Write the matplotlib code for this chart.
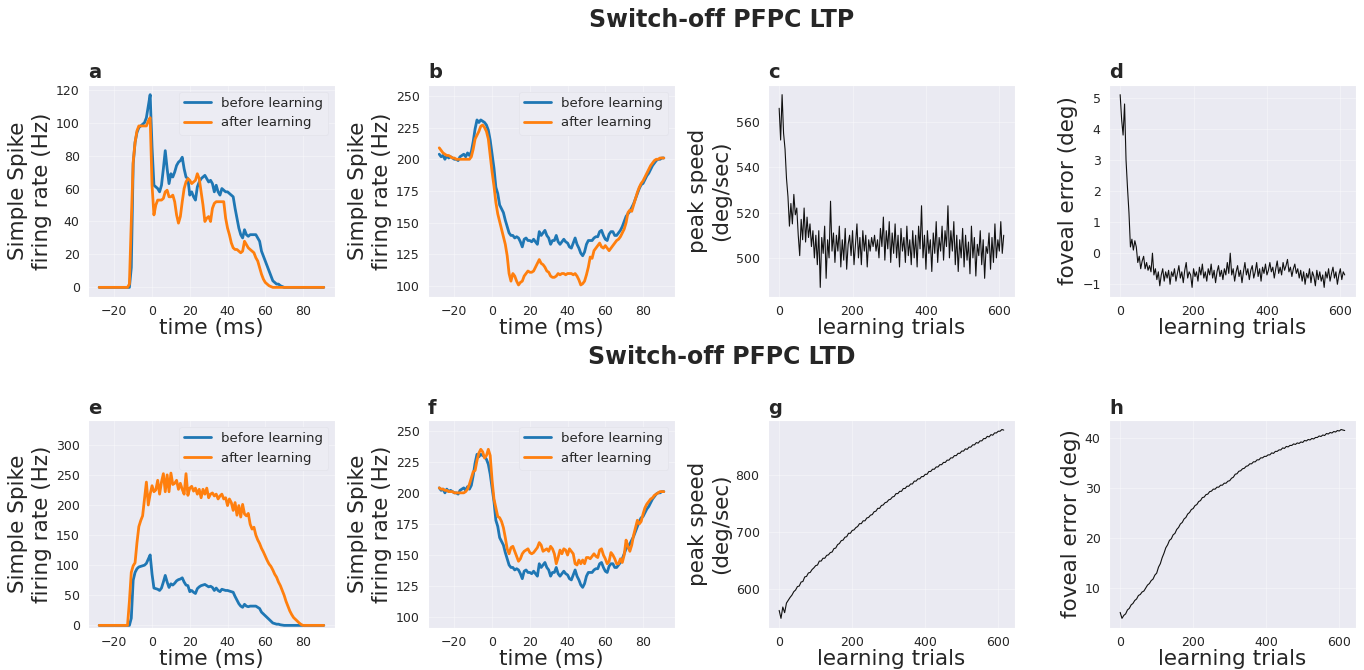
import numpy as np
import matplotlib
matplotlib.use("Agg")
import matplotlib.pyplot as plt
import seaborn as sns

sns.set_style("darkgrid")
plt.rcParams["font.family"] = ["DejaVu Sans"]

# 1 ms bins around saccade onset
t_ms = np.arange(-28, 92)

# simple spike rate, burst cell (Hz); the "before" run is the same in both rows
burst_before = [0, 0, 0, 0, 0, 0, 0, 0, 0, 0,
                0, 0, 0, 0, 0, 0, 0, 12, 75, 88,
                94, 97, 98, 99, 100, 103, 110, 117, 85, 62,
                61, 60, 58, 62, 72, 83, 72, 63, 69, 67,
                70, 74, 76, 77, 79, 72, 67, 66, 56, 58,
                55, 53, 61, 64, 66, 67, 68, 66, 64, 65,
                63, 58, 62, 58, 56, 60, 59, 58, 58, 57,
                56, 55, 48, 42, 36, 32, 30, 35, 32, 31,
                32, 32, 32, 32, 30, 28, 22, 19, 16, 13,
                10, 7, 4, 3, 2, 2, 1, 0.5, 0, 0,
                0, 0, 0, 0, 0, 0, 0, 0, 0, 0,
                0, 0, 0, 0, 0, 0, 0, 0, 0, 0]
burst_after_ltp = [0, 0, 0, 0, 0, 0, 0, 0, 0, 0,
                   0, 0, 0, 0, 0, 0, 2, 40, 76, 88,
                   95, 98, 98, 98, 98, 98, 101, 103, 62, 44,
                   50, 53, 53, 53, 54, 58, 59, 55, 55, 56,
                   52, 44, 39, 43, 52, 60, 64, 66, 65, 63,
                   64, 65, 69, 66, 58, 50, 40, 42, 43, 40,
                   48, 51, 52, 52, 52, 52, 52, 42, 36, 32,
                   27, 24, 23, 23, 22, 21, 22, 28, 26, 24,
                   23, 22, 21, 18, 16, 12, 8, 5, 3, 2,
                   1, 0.5, 0, 0, 0, 0, 0, 0, 0, 0,
                   0, 0, 0, 0, 0, 0, 0, 0, 0, 0,
                   0, 0, 0, 0, 0, 0, 0, 0, 0, 0]
burst_after_ltd = [0, 0, 0, 0, 0, 0, 0, 0, 0, 0,
                   0, 0, 0, 0, 0, 0, 40, 88, 99, 104,
                   137, 164, 174, 182, 210, 238, 200, 218, 232, 222,
                   225, 241, 218, 238, 252, 222, 250, 222, 253, 234,
                   236, 241, 226, 236, 226, 218, 252, 216, 228, 231,
                   223, 228, 218, 226, 212, 226, 218, 228, 212, 218,
                   220, 215, 218, 210, 215, 218, 210, 212, 199, 210,
                   204, 191, 204, 183, 199, 180, 201, 185, 182, 186,
                   168, 160, 163, 150, 142, 136, 128, 122, 115, 108,
                   102, 98, 92, 85, 80, 72, 66, 58, 50, 40,
                   32, 24, 18, 13, 10, 7, 4, 1.5, 0, 0,
                   0, 0, 0, 0, 0, 0, 0, 0, 0, 0]

# simple spike rate, pause cell (Hz)
pause_before = [204, 202, 203, 200, 203, 201, 202, 201, 200, 200,
                199, 202, 203, 204, 202, 205, 203, 206, 214, 224,
                231, 229, 231, 230, 229, 227, 223, 215, 204, 193,
                178, 173, 164, 161, 158, 152, 147, 142, 140, 140,
                138, 139, 138, 135, 131, 137, 138, 136, 136, 135,
                137, 135, 133, 143, 140, 142, 144, 140, 138, 133,
                136, 136, 140, 135, 133, 135, 137, 135, 134, 131,
                130, 134, 138, 133, 130, 126, 124, 127, 133, 136,
                136, 136, 138, 139, 139, 143, 144, 140, 137, 136,
                141, 143, 143, 140, 140, 142, 144, 147, 151, 155,
                157, 159, 162, 165, 169, 173, 177, 180, 181, 184,
                187, 189, 192, 195, 197, 199, 200, 200, 201, 201]
pause_after_ltp = [209, 207, 205, 204, 203, 203, 202, 201, 201, 200,
                   200, 200, 200, 200, 200, 200, 200, 202, 208, 216,
                   219, 222, 226, 227, 225, 222, 216, 203, 190, 179,
                   166, 157, 151, 145, 139, 133, 124, 110, 104, 110,
                   108, 104, 101, 103, 104, 108, 110, 112, 111, 111,
                   112, 115, 118, 121, 118, 117, 115, 112, 111, 108,
                   107, 107, 108, 110, 109, 110, 110, 109, 110, 110,
                   110, 109, 110, 108, 105, 101, 102, 104, 109, 115,
                   123, 122, 128, 130, 132, 134, 131, 130, 132, 130,
                   128, 130, 132, 134, 136, 137, 139, 142, 145, 150,
                   158, 160, 159, 164, 169, 174, 178, 181, 183, 186,
                   189, 192, 195, 197, 199, 200, 200, 201, 201, 201]
pause_after_ltd = [204, 203, 203, 202, 202, 201, 201, 201, 200, 200,
                   200, 200, 200, 200, 201, 203, 207, 212, 217, 218,
                   226, 232, 235, 233, 228, 230, 235, 230, 210, 195,
                   188, 181, 180, 177, 172, 164, 155, 151, 156, 157,
                   153, 149, 145, 147, 151, 153, 154, 155, 152, 151,
                   152, 154, 156, 160, 158, 153, 154, 155, 153, 157,
                   155, 151, 143, 148, 154, 151, 155, 154, 150, 155,
                   153, 151, 143, 142, 146, 143, 146, 143, 148, 148,
                   147, 149, 151, 149, 148, 154, 155, 150, 147, 143,
                   145, 152, 150, 147, 143, 143, 147, 144, 150, 162,
                   157, 153, 158, 166, 172, 178, 175, 177, 183, 188,
                   191, 193, 195, 196, 198, 199, 200, 201, 201, 201]

# learning curves: c/d read every 4 trials, g/h every 5 trials
speed_ltp = [566, 552, 572, 555, 548, 535, 527, 514, 524, 515,
             528, 519, 522, 510, 501, 517, 508, 522, 507, 518,
             509, 515, 505, 512, 500, 510, 497, 512, 487, 509,
             502, 514, 491, 508, 500, 525, 503, 511, 498, 510,
             503, 514, 496, 508, 499, 513, 495, 506, 510, 501,
             512, 497, 506, 515, 500, 509, 497, 512, 503, 510,
             496, 508, 503, 509, 505, 510, 503, 508, 500, 513,
             505, 518, 499, 512, 504, 516, 498, 511, 502, 515,
             500, 510, 496, 513, 503, 509, 498, 514, 501, 508,
             497, 512, 500, 510, 496, 514, 504, 523, 500, 510,
             495, 512, 502, 508, 494, 511, 502, 516, 498, 509,
             503, 514, 499, 512, 505, 523, 500, 512, 503, 516,
             497, 510, 494, 508, 500, 513, 496, 510, 499, 507,
             493, 514, 500, 509, 492, 506, 501, 512, 497, 508,
             491, 505, 502, 511, 495, 509, 498, 515, 500, 508,
             503, 516, 502, 510]
error_ltp = [5.1, 4.3, 3.8, 4.8, 3.0, 2.1, 1.3, 0.2, 0.45, 0.1,
             0.4, 0.2, -0.3, -0.1, -0.5, -0.25, -0.1, -0.5, -0.3, -0.55,
             -0.4, -0.6, 0.0, -0.7, -0.5, -0.85, -0.6, -1.05, -0.7, -0.5,
             -0.9, -0.6, -0.8, -0.55, -1.0, -0.6, -0.75, -0.5, -0.9, -0.65,
             -0.4, -0.8, -0.6, -0.95, -0.55, -0.3, -0.8, -0.6, -0.7, -1.1,
             -0.5, -0.75, -0.6, -0.9, -0.45, -0.7, -0.35, -0.8, -0.6, -0.9,
             -0.5, -0.7, -0.35, -0.8, -0.55, -0.95, -0.6, -0.4, -0.75, -0.55,
             -0.85, -0.5, -0.7, -0.3, -0.65, 0.0, -0.7, -0.5, -0.9, -0.6,
             -0.4, -0.75, -0.55, -0.95, -0.6, -0.3, -0.7, -0.5, -0.85, -0.55,
             -0.4, -0.8, -0.6, -0.3, -0.75, -0.5, -0.9, -0.45, -0.65, -0.35,
             -0.7, -0.55, -0.3, -0.6, -0.45, -0.8, -0.5, -0.25, -0.65, -0.45,
             -0.7, -0.3, -0.55, -0.4, -0.2, -0.6, -0.45, -0.75, -0.5, -0.35,
             -0.65, -0.5, -0.8, -0.55, -0.9, -0.6, -1.0, -0.65, -0.8, -0.5,
             -0.95, -0.6, -0.75, -1.05, -0.55, -0.85, -0.6, -0.9, -0.7, -1.1,
             -0.6, -0.8, -0.5, -0.9, -0.65, -0.45, -0.8, -0.6, -1.0, -0.7,
             -0.5, -0.85, -0.6, -0.7]
speed_ltd = [562, 548, 568, 558, 575, 580, 585, 589, 595, 598,
             604, 605, 612, 613, 621, 622, 628, 629, 634, 637,
             641, 642, 649, 649, 654, 654, 659, 660, 664, 665,
             671, 672, 678, 680, 685, 686, 691, 692, 698, 698,
             703, 704, 708, 710, 715, 715, 720, 720, 725, 726,
             730, 731, 736, 737, 742, 742, 747, 748, 752, 753,
             757, 758, 762, 763, 768, 768, 772, 772, 777, 777,
             781, 781, 785, 785, 790, 790, 794, 794, 798, 798,
             802, 802, 807, 807, 811, 811, 815, 815, 819, 819,
             823, 823, 827, 827, 831, 831, 835, 835, 839, 839,
             843, 843, 847, 846, 850, 850, 854, 854, 858, 857,
             861, 861, 865, 865, 869, 868, 872, 871, 875, 875,
             878, 878, 881, 880]
error_ltd = [5.0, 3.8, 4.4, 4.7, 5.5, 5.8, 6.5, 6.8, 7.4, 7.7,
             8.4, 8.6, 9.1, 9.3, 9.9, 10.5, 10.8, 11.4, 11.7, 12.5,
             12.9, 14.1, 14.8, 16.0, 16.9, 18.0, 18.6, 19.5, 19.8, 20.6,
             20.9, 21.7, 22.1, 22.8, 23.1, 23.8, 24.1, 24.8, 25.1, 25.7,
             25.9, 26.5, 26.7, 27.3, 27.5, 28.1, 28.2, 28.7, 28.8, 29.3,
             29.4, 29.8, 29.8, 30.2, 30.2, 30.6, 30.6, 31.0, 31.0, 31.4,
             31.5, 32.0, 32.2, 32.8, 32.9, 33.4, 33.5, 33.9, 34.0, 34.4,
             34.5, 34.9, 34.9, 35.3, 35.3, 35.7, 35.7, 36.1, 36.1, 36.4,
             36.4, 36.7, 36.7, 37.1, 37.0, 37.4, 37.4, 37.7, 37.7, 38.1,
             38.0, 38.4, 38.3, 38.6, 38.6, 38.9, 38.8, 39.1, 39.0, 39.3,
             39.2, 39.6, 39.5, 39.8, 39.7, 40.0, 39.9, 40.2, 40.2, 40.5,
             40.4, 40.7, 40.6, 41.0, 40.9, 41.2, 41.1, 41.4, 41.3, 41.6,
             41.5, 41.8, 41.7, 41.6]

LABEL = 15.5
TICK = 9


def rate_panel(ax, before, after, letter, yticks, ylim=None):
    ax.plot(t_ms, before, color="#1f77b4", lw=2, label="before learning")
    ax.plot(t_ms, after, color="#ff7f0e", lw=2, label="after learning")
    if ylim is not None:
        ax.set_ylim(*ylim)
    ax.set_yticks(yticks)
    ax.set_xticks([-20, 0, 20, 40, 60, 80])
    ax.set_xlabel("time (ms)", fontsize=LABEL, labelpad=0)
    ax.set_ylabel("Simple Spike\nfiring rate (Hz)", fontsize=LABEL, labelpad=3)
    leg = ax.legend(loc="upper right", fontsize=9.5, frameon=True,
                    facecolor="#ECECF3", edgecolor="#E4E4EC", framealpha=1)
    leg.get_frame().set_linewidth(0.6)
    finish(ax, letter)


def trial_panel(ax, values, step, letter, ylabel, yticks):
    trials = np.arange(len(values)) * step
    ax.plot(trials, values, color="#111111", lw=0.8)
    ax.set_yticks(yticks)
    ax.set_xticks([0, 200, 400, 600])
    ax.set_xlabel("learning trials", fontsize=LABEL, labelpad=0)
    ax.set_ylabel(ylabel, fontsize=LABEL, labelpad=3)
    finish(ax, letter)


def finish(ax, letter):
    ax.tick_params(labelsize=TICK, pad=2.5)
    ax.grid(color="white", lw=0.7, alpha=0.35)
    ax.text(0.0, 1.012, letter, transform=ax.transAxes, fontsize=14,
            fontweight="bold", ha="left", va="bottom")


fig = plt.figure(figsize=(13.64, 6.70), dpi=100)
lefts = [0.0645, 0.3138, 0.5630, 0.8130]
w = 0.1811
top_row = [fig.add_axes([l, 0.5567, w, 0.3164]) for l in lefts]
bot_row = [fig.add_axes([l, 0.0630, w, 0.3100]) for l in lefts]

rate_panel(top_row[0], burst_before, burst_after_ltp, "a", np.arange(0, 121, 20))
rate_panel(top_row[1], pause_before, pause_after_ltp, "b", np.arange(100, 251, 25), (91.5, 258.5))
trial_panel(top_row[2], speed_ltp, 4, "c", "peak speed\n(deg/sec)", [500, 520, 540, 560])
trial_panel(top_row[3], error_ltp, 4, "d", "foveal error (deg)", np.arange(-1, 6))

rate_panel(bot_row[0], burst_before, burst_after_ltd, "e", np.arange(0, 301, 50), (-4, 341))
rate_panel(bot_row[1], pause_before, pause_after_ltd, "f", np.arange(100, 251, 25), (91.5, 258.5))
trial_panel(bot_row[2], speed_ltd, 5, "g", "peak speed\n(deg/sec)", [600, 700, 800])
trial_panel(bot_row[3], error_ltd, 5, "h", "foveal error (deg)", [10, 20, 30, 40])

fig.text(0.529, 0.970, "Switch-off PFPC LTP", ha="center", va="center",
         fontsize=17, fontweight="bold")
fig.text(0.529, 0.467, "Switch-off PFPC LTD", ha="center", va="center",
         fontsize=17, fontweight="bold")

fig.savefig("out.png", dpi=100)
